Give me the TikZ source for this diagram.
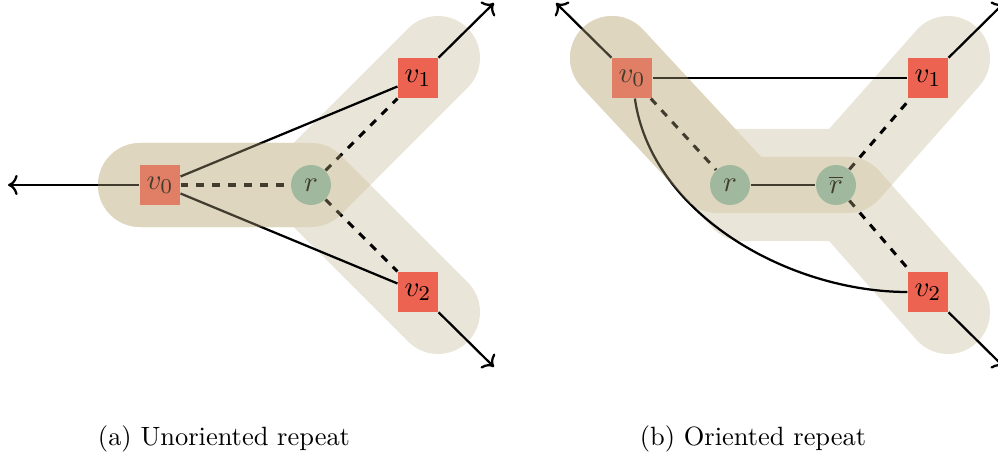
\documentclass[tikz,border=0pt]{standalone}
\usetikzlibrary{calc,arrows.meta}
\definecolor{hyperlight}{HTML}{E9E5D8}
\definecolor{hypershade}{RGB}{200,184,141}
\definecolor{vertexred}{HTML}{EC6352}
\definecolor{repeatgreen}{HTML}{8DB8A6}
\def\R{15.889pt}% half the width of a hyperedge band
\begin{document}
\begin{tikzpicture}[x=0.3783pt,y=0.3783pt,
  vertex/.style={rectangle, fill=vertexred, minimum size=15.13pt, inner sep=0pt,
    font=\fontsize{11}{13}\selectfont},
  repeatnode/.style={circle, fill=repeatgreen, minimum size=15.13pt, inner sep=0pt,
    font=\fontsize{11}{13}\selectfont},
  band/.style={line width=31.78pt, line cap=round, line join=round},
  lightband/.style={band, hyperlight},
  shadeband/.style={band, hypershade, opacity=0.33},
  link/.style={line width=0.85pt},
  dashlink/.style={line width=1.15pt, dashed},
  outarrow/.style={line width=0.85pt, -{To[scale=1.05]}},
  caption/.style={anchor=base, font=\fontsize{10}{12}\selectfont}
]
\useasboundingbox (0,0) rectangle (998,459);

% ---------- (a) unoriented repeat ----------
\coordinate (a-e0) at (140,274);
\coordinate (a-j)  at (311,274);
\coordinate (a-e1) at (438,401);
\coordinate (a-e2) at (438,147);
\draw[lightband] (a-e0) -- (a-j) -- (a-e1);
\draw[lightband] (a-e0) -- (a-j) -- (a-e2);

\node[vertex] (a-v0) at (160,274) {$v_0$};
\node[vertex] (a-v1) at (418,381) {$v_1$};
\node[vertex] (a-v2) at (418,167) {$v_2$};
\node[repeatnode] (a-r) at (311,274) {$r$};
\coordinate (a-o0) at (8,274);
\coordinate (a-o1) at (494,456);
\coordinate (a-o2) at (494,92);

\draw[dashlink] (a-v0) -- (a-r);
\draw[dashlink] (a-r) -- (a-v1);
\draw[dashlink] (a-r) -- (a-v2);
\draw[link] (a-v0) -- (a-v1);
\draw[link] (a-v0) -- (a-v2);
\draw[outarrow] (a-v0) -- (a-o0);
\draw[outarrow] (a-v1) -- (a-o1);
\draw[outarrow] (a-v2) -- (a-o2);

% shared part of the two hyperedges
\begin{scope}
\clip ($(a-e0)!\R!-90:(a-j)$) -- ($(a-j)!\R!90:(a-e0)$) -- ($(a-j)!\R!-90:(a-e0)$) -- ($(a-e0)!\R!90:(a-j)$) -- cycle
      ($(a-j)!\R!-90:(a-e1)$) -- ($(a-e1)!\R!90:(a-j)$) -- ($(a-e1)!\R!-90:(a-j)$) -- ($(a-j)!\R!90:(a-e1)$) -- cycle
      (a-e0) circle[radius=\R] (a-j) circle[radius=\R] (a-e1) circle[radius=\R];
\draw[shadeband] (a-e0) -- (a-j) -- (a-e2);
\end{scope}

\node[caption] (a-cap) at (224,13) {(a) Unoriented repeat};

% ---------- (b) oriented repeat ----------
\coordinate (b-e0) at (612,401);
\coordinate (b-a1) at (717,288);
\coordinate (b-a2) at (848,288);
\coordinate (b-e1) at (948,401);
\coordinate (b-b1) at (743,260);
\coordinate (b-b2) at (848,260);
\coordinate (b-e2) at (948,147);
\draw[lightband] (b-e0) -- (b-a1) -- (b-a2) -- (b-e1);
\draw[lightband] (b-e0) -- (b-b1) -- (b-b2) -- (b-e2);

\node[vertex] (b-v0) at (632,381) {$v_0$};
\node[vertex] (b-v1) at (928,381) {$v_1$};
\node[vertex] (b-v2) at (928,167) {$v_2$};
\node[repeatnode] (b-r) at (730,274) {$r$};
\node[repeatnode] (b-rb) at (836,274) {$\overline{r}$};
\coordinate (b-o0) at (556,456);
\coordinate (b-o1) at (1004,456);
\coordinate (b-o2) at (1004,92);

\draw[link] (b-v0) -- (b-v1);
\draw[dashlink] (b-v0) -- (b-r);
\draw[link] (b-r) -- (b-rb);
\draw[dashlink] (b-rb) -- (b-v1);
\draw[dashlink] (b-rb) -- (b-v2);
\draw[link] (b-v0) to[out=-82, in=180, looseness=0.9] (b-v2);
\draw[outarrow] (b-v0) -- (b-o0);
\draw[outarrow] (b-v1) -- (b-o1);
\draw[outarrow] (b-v2) -- (b-o2);

\begin{scope}
\clip ($(b-e0)!\R!-90:(b-a1)$) -- ($(b-a1)!\R!90:(b-e0)$) -- ($(b-a1)!\R!-90:(b-e0)$) -- ($(b-e0)!\R!90:(b-a1)$) -- cycle
      ($(b-a1)!\R!-90:(b-a2)$) -- ($(b-a2)!\R!90:(b-a1)$) -- ($(b-a2)!\R!-90:(b-a1)$) -- ($(b-a1)!\R!90:(b-a2)$) -- cycle
      ($(b-a2)!\R!-90:(b-e1)$) -- ($(b-e1)!\R!90:(b-a2)$) -- ($(b-e1)!\R!-90:(b-a2)$) -- ($(b-a2)!\R!90:(b-e1)$) -- cycle
      (b-e0) circle[radius=\R] (b-a1) circle[radius=\R] (b-a2) circle[radius=\R] (b-e1) circle[radius=\R];
\draw[shadeband] (b-e0) -- (b-b1) -- (b-b2) -- (b-e2);
\end{scope}

\node[caption] (b-cap) at (753,13) {(b) Oriented repeat};
\end{tikzpicture}
\end{document}
